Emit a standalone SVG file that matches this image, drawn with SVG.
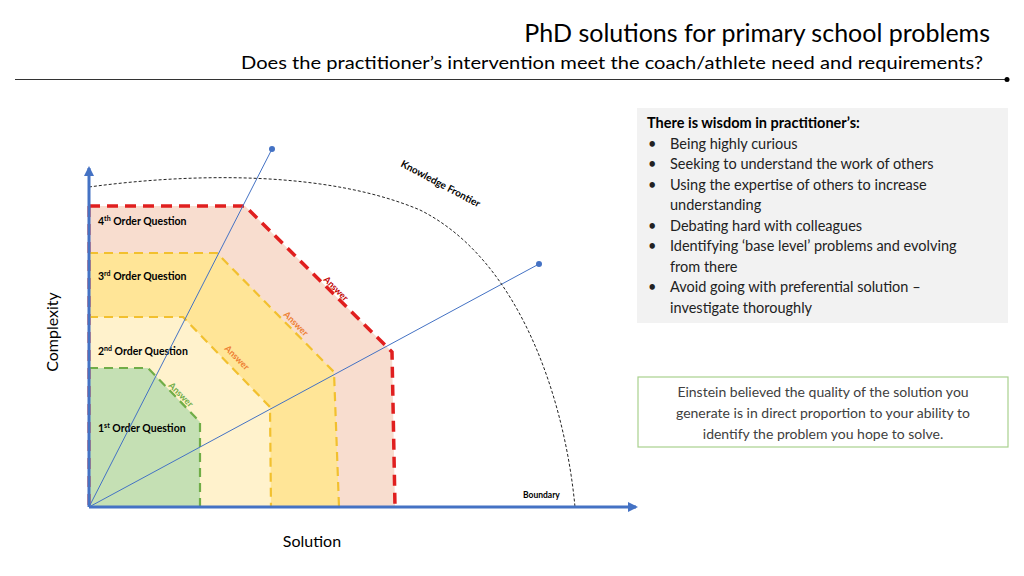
<svg xmlns="http://www.w3.org/2000/svg" width="1024" height="576" viewBox="0 0 1024 576">
<defs>
<style>
text{font-family:Lato,"Liberation Sans",sans-serif;fill:#000}
.q{font-size:10.5px;font-weight:bold}
.ans{font-size:9px;font-weight:bold}
.p{font-size:14.5px;fill:#222}
.g{font-size:14px;fill:#404040}
</style>
<marker id="ar" markerWidth="10" markerHeight="10" refX="8" refY="5" orient="auto" markerUnits="userSpaceOnUse"><path d="M0,0 L10,5 L0,10 Z" fill="#4472C4"/></marker>
</defs>
<rect width="1024" height="576" fill="#fff"/>
<g id="title">
<text x="990" y="42" text-anchor="end" font-size="25" fill="#000">PhD solutions for primary school problems</text>
<text x="983" y="69" text-anchor="end" font-size="18" textLength="742" lengthAdjust="spacingAndGlyphs">Does the practitioner’s intervention meet the coach/athlete need  and requirements?</text>
<line x1="15" y1="79.5" x2="1007" y2="79.5" stroke="#333" stroke-width="1"/>
<circle cx="1007" cy="79.5" r="2.5" fill="#000"/>
</g>
<g id="regions">
<path id="q4" d="M89,206 L245,206 L392,352 L395,507 L89,507Z" fill="#F8DDCF"/>
<path id="q3" d="M89,253 L217,253 L334,372 L339,507 L89,507Z" fill="#FFE597"/>
<path id="q2" d="M89,317 L183,317 L270,407 L271,507 L89,507Z" fill="#FFF2CC"/>
<path id="q1" d="M89,368 L148,368 L200,422 L200,507 L89,507Z" fill="#C5E0B4"/>
<path d="M89,206 L245,206 L392,352 L395,507" fill="none" stroke="#E01F1F" stroke-width="3.5" stroke-dasharray="11,7"/>
<path d="M89,206 L89,507" fill="none" stroke="#E01F1F" stroke-width="3" stroke-dasharray="11,7"/>
<path d="M89,253 L217,253 L334,372 L339,507" fill="none" stroke="#F2C02E" stroke-width="2.2" stroke-dasharray="9,6"/>
<path d="M89,317 L183,317 L270,407 L271,507" fill="none" stroke="#F2C02E" stroke-width="2.2" stroke-dasharray="9,6"/>
<path d="M89,368 L148,368 L200,422 L200,507" fill="none" stroke="#70AD47" stroke-width="2.2" stroke-dasharray="9,6"/>
<text class="q" x="98" y="225">4<tspan font-size="7" dy="-4">th</tspan><tspan dy="4"> Order Question</tspan></text>
<text class="q" x="98" y="280">3<tspan font-size="7" dy="-4">rd</tspan><tspan dy="4"> Order Question</tspan></text>
<text class="q" x="98" y="355">2<tspan font-size="7" dy="-4">nd</tspan><tspan dy="4"> Order Question</tspan></text>
<text class="q" x="98" y="432">1<tspan font-size="7" dy="-4">st</tspan><tspan dy="4"> Order Question</tspan></text>
<text class="ans" fill="#E01F1F" transform="translate(323,280) rotate(45)" style="fill:#C00000">Answer</text>
<text class="ans" transform="translate(283,315) rotate(45)" style="fill:#ED7D31">Answer</text>
<text class="ans" transform="translate(224,349) rotate(45)" style="fill:#ED7D31">Answer</text>
<text class="ans" transform="translate(168,386) rotate(45)" style="fill:#70AD47">Answer</text>
</g>
<g id="connectors">
<line x1="89" y1="507" x2="272" y2="149" stroke="#4472C4" stroke-width="1"/>
<circle cx="272" cy="149" r="3" fill="#4472C4"/>
<line x1="89" y1="507" x2="539" y2="264" stroke="#4472C4" stroke-width="1"/>
<circle cx="539" cy="264" r="3" fill="#4472C4"/>
<path d="M89,187 C200,172 330,172 420,210 C520,260 565,400 575,507" fill="none" stroke="#222" stroke-width="1" stroke-dasharray="3,2"/>
<line x1="89" y1="507" x2="89" y2="168" stroke="#4472C4" stroke-width="3" marker-end="url(#ar)"/>
<line x1="89" y1="507" x2="636" y2="507" stroke="#4472C4" stroke-width="3" marker-end="url(#ar)"/>
</g>
<g id="labels">
<text x="400" y="166" font-size="10" font-weight="bold" transform="rotate(28 400 166)">Knowledge Frontier</text>
<text x="523" y="498" font-size="8.5" font-weight="bold">Boundary</text>
<text x="312" y="547" text-anchor="middle" font-size="16">Solution</text>
<text x="58" y="332" text-anchor="middle" font-size="16" transform="rotate(-90 58 332)">Complexity</text>
</g>
<g id="wisdom">
<rect x="637" y="108" width="371" height="215" fill="#F2F2F2"/>
<text x="647" y="128" font-size="14.5" font-weight="bold">There is wisdom in practitioner’s:</text>
<g class="p">
<text class="p" x="648" y="149">•</text><text class="p" x="670" y="149">Being highly curious</text>
<text class="p" x="648" y="169">•</text><text class="p" x="670" y="169">Seeking to understand the work of others</text>
<text class="p" x="648" y="190">•</text><text class="p" x="670" y="190">Using the expertise of others to increase</text>
<text class="p" x="670" y="210">understanding</text>
<text class="p" x="648" y="231">•</text><text class="p" x="670" y="231">Debating hard with colleagues</text>
<text class="p" x="648" y="251">•</text><text class="p" x="670" y="251">Identifying ‘base level’ problems and evolving</text>
<text class="p" x="670" y="272">from there</text>
<text class="p" x="648" y="292">•</text><text class="p" x="670" y="292">Avoid going with preferential solution –</text>
<text class="p" x="670" y="313">investigate thoroughly</text>
</g>
</g>
<g id="einstein">
<rect x="638" y="377" width="370" height="70" fill="#fff" stroke="#A9D18E" stroke-width="1.2"/>
<text class="g" x="823" y="397" text-anchor="middle">Einstein believed the quality of the solution you</text>
<text class="g" x="823" y="418" text-anchor="middle">generate is in direct proportion to your ability to</text>
<text class="g" x="823" y="439" text-anchor="middle">identify the problem you hope to solve.</text>
</g>
</svg>
